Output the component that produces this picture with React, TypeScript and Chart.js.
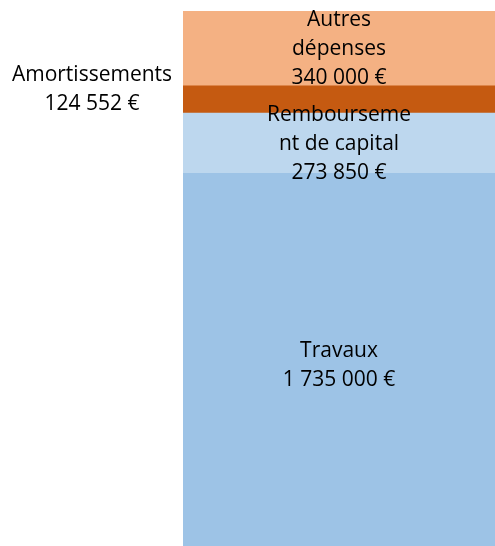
import React, { useEffect, useRef } from "react";
import { Chart, registerables } from "chart.js";

Chart.register(...registerables);

const categories = ["Dépenses"];
const seriesNames = ["Travaux", "Remboursement de capital", "Amortissements", "Autres dépenses"];
const seriesValues = [1735000, 273850, 124552, 340000];
const labelLines = [["Travaux"], ["Rembourseme", "nt de capital"], ["Amortissements"], ["Autres", "dépenses"]];
const seriesColors = ["#9DC3E6", "#BDD7EE", "#C55A11", "#F4B183"];

const formatEuro = (v: number) =>
  String(Math.round(v)).replace(/\B(?=(\d{3})+(?!\d))/g, " ") + " €";

const FONT = "21px 'Open Sans', sans-serif";
const LINE_H = 29;

const labelPlugin = {
  id: "segLabels",
  afterDatasetsDraw(chart: any) {
    const ctx = chart.ctx;
    ctx.save();
    ctx.font = FONT;
    ctx.fillStyle = "#000000";
    ctx.textAlign = "center";
    ctx.textBaseline = "middle";
    chart.data.datasets.forEach((ds: any, i: number) => {
      const meta = chart.getDatasetMeta(i);
      const el = meta.data[0];
      if (!el) return;
      const lines = [...labelLines[i], formatEuro(ds.data[0])];
      const midY = (el.y + el.base) / 2;
      let cx = el.x;
      let cy = midY + 1;
      if (i === 2) {
        cx = chart.chartArea.left - 91;
        cy = midY - 10;
      }
      const startY = cy - ((lines.length - 1) * LINE_H) / 2;
      lines.forEach((t, k) => ctx.fillText(t, cx, startY + k * LINE_H));
    });
    ctx.restore();
  },
};

export default function App() {
  const ref = useRef<HTMLCanvasElement>(null);
  useEffect(() => {
    document.body.style.margin = "0";
    document.body.style.overflow = "hidden";
    const total = seriesValues.reduce((a, b) => a + b, 0);
    const chart = new Chart(ref.current!, {
      type: "bar",
      data: {
        labels: categories,
        datasets: seriesNames.map((name, i) => ({
          label: name,
          data: [seriesValues[i]],
          backgroundColor: seriesColors[i],
          borderWidth: 0,
          barPercentage: 1,
          categoryPercentage: 1,
        })),
      },
      options: {
        animation: false,
        responsive: false,
        devicePixelRatio: 1,
        layout: { padding: { left: 183, top: 11, right: 0, bottom: 1 } },
        plugins: { legend: { display: false }, tooltip: { enabled: false } },
        scales: {
          x: { stacked: true, display: false },
          y: { stacked: true, display: false, min: 0, max: total },
        },
      },
      plugins: [labelPlugin],
    });
    return () => chart.destroy();
  }, []);
  return (
    <div style={{ width: 495, height: 546, overflow: "hidden" }}>
      <canvas ref={ref} width={495} height={556} style={{ display: "block" }} />
    </div>
  );
}
